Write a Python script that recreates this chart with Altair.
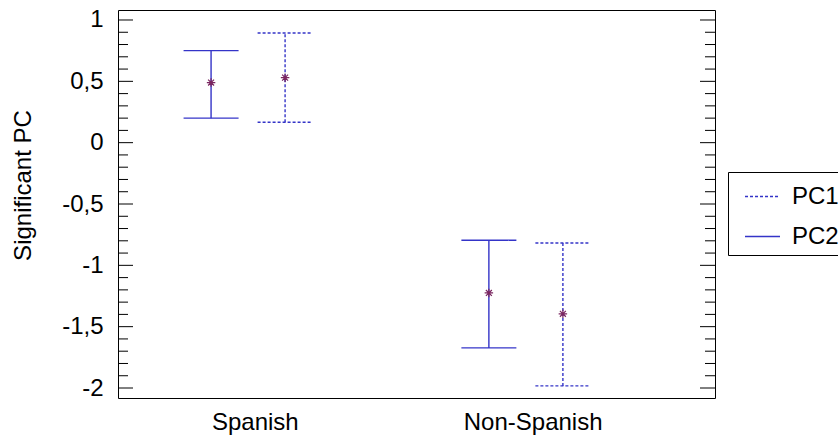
import altair as alt
import pandas as pd

# Group means with their confidence bounds
groups = ["Spanish", "Spanish", "Non-Spanish", "Non-Spanish"]
series = ["PC2", "PC1", "PC2", "PC1"]
means = [0.49, 0.53, -1.225, -1.395]
lower = [0.20, 0.167, -1.673, -1.983]
upper = [0.75, 0.894, -0.795, -0.818]

group_order = ["Spanish", "Non-Spanish"]
series_order = ["PC2", "PC1"]
legend_order = ["PC1", "PC2"]

major_ticks = [-2, -1.5, -1, -0.5, 0, 0.5, 1]
minor_ticks = [-1.9, -1.8, -1.7, -1.6, -1.4, -1.3, -1.2, -1.1,
               -0.9, -0.8, -0.7, -0.6, -0.4, -0.3, -0.2, -0.1,
               0.1, 0.2, 0.3, 0.4, 0.6, 0.7, 0.8, 0.9]

df = pd.DataFrame({"group": groups, "series": series,
                   "mean": means, "lower": lower, "upper": upper})
major_df = pd.DataFrame({"v": major_ticks})
minor_df = pd.DataFrame({"v": minor_ticks})

W, H = 597, 388
BLUE = "#3434c8"
STAR = "#7a2660"
FONT = "Liberation Sans"
FS = 24

y_scale = alt.Scale(domain=[-2.0815, 1.0815], nice=False, zero=False)
y_axis = alt.Axis(
    values=major_ticks,
    labelExpr="replace(toString(datum.value), '.', ',')",
    ticks=False, domain=False, grid=False,
    labelFontSize=FS, labelPadding=15, labelColor="black",
    title="Significant PC", titleFontSize=FS, titleFontWeight="normal",
    titleColor="black", titleAngle=270, titleX=-88, titleY=175,
    titleAlign="center", titleBaseline="alphabetic",
)

x_enc = alt.X(
    "group:N", sort=group_order,
    scale=alt.Scale(paddingInner=0.1, paddingOuter=0.1245, align=0.178),
    axis=alt.Axis(title=None, ticks=False, domain=False, grid=False,
                  labelFontSize=FS, labelPadding=12, labelAngle=0,
                  labelColor="black"),
)
xoff_enc = alt.XOffset(
    "series:N", sort=series_order,
    scale=alt.Scale(paddingInner=0, paddingOuter=0.689, align=0.429),
)

dash_legend = alt.Legend(
    orient="none", legendX=610, legendY=162, title=None,
    symbolType="stroke", symbolSize=1225, symbolStrokeWidth=1.4,
    symbolStrokeColor=BLUE, symbolOffset=10,
    labelFontSize=FS, labelFont=FONT, labelColor="black", labelOffset=11,
    padding=6, rowPadding=9,
    strokeColor="black", fillColor="white",
)
dash_enc = alt.StrokeDash(
    "series:N",
    scale=alt.Scale(domain=legend_order, range=[[3, 2], [1, 0]]),
    legend=dash_legend,
)

base = alt.Chart(df)

# Vertical interval lines
stems = base.mark_rule(color=BLUE, strokeWidth=1.4).encode(
    x=x_enc, xOffset=xoff_enc,
    y=alt.Y("lower:Q", scale=y_scale, axis=y_axis),
    y2="upper:Q",
    strokeDash=dash_enc,
)

# Horizontal caps at both ends
cap_shape = "M-1,0L1,0"


def caps(field):
    return base.mark_point(shape=cap_shape, filled=False, size=3025,
                           color=BLUE, strokeWidth=1.4, opacity=1).encode(
        x=x_enc, xOffset=xoff_enc,
        y=alt.Y(f"{field}:Q", scale=y_scale, axis=y_axis),
        strokeDash=dash_enc,
    )


# Asterisk at the mean
star_shape = "M-1,0L1,0M0,-1L0,1M-0.7,-0.7L0.7,0.7M-0.7,0.7L0.7,-0.7"
stars = base.mark_point(shape=star_shape, filled=False, size=72,
                        color=STAR, strokeWidth=1.2, opacity=1).encode(
    x=x_enc, xOffset=xoff_enc,
    y=alt.Y("mean:Q", scale=y_scale, axis=y_axis),
)


# Inward-pointing ticks on the left and right frame edges
def frame_ticks(data, x0, x1):
    return alt.Chart(data).mark_rule(color="black", strokeWidth=1).encode(
        y=alt.Y("v:Q", scale=y_scale, axis=y_axis),
        x=alt.value(x0), x2=alt.value(x1),
    )


ticks = [
    frame_ticks(major_df, 0, 15),
    frame_ticks(minor_df, 0, 10),
    frame_ticks(major_df, W, W - 15),
    frame_ticks(minor_df, W, W - 10),
]

chart = alt.layer(stems, caps("upper"), caps("lower"), stars, *ticks).properties(
    width=W, height=H,
    autosize=alt.AutoSizeParams(type="none"),
    padding={"left": 118, "top": 10, "right": 123, "bottom": 39},
    background="white",
).configure(font=FONT).configure_view(
    stroke="black", strokeWidth=1, fill="white"
)

chart.save("out.html", embed_options={"renderer": "svg", "actions": False})
